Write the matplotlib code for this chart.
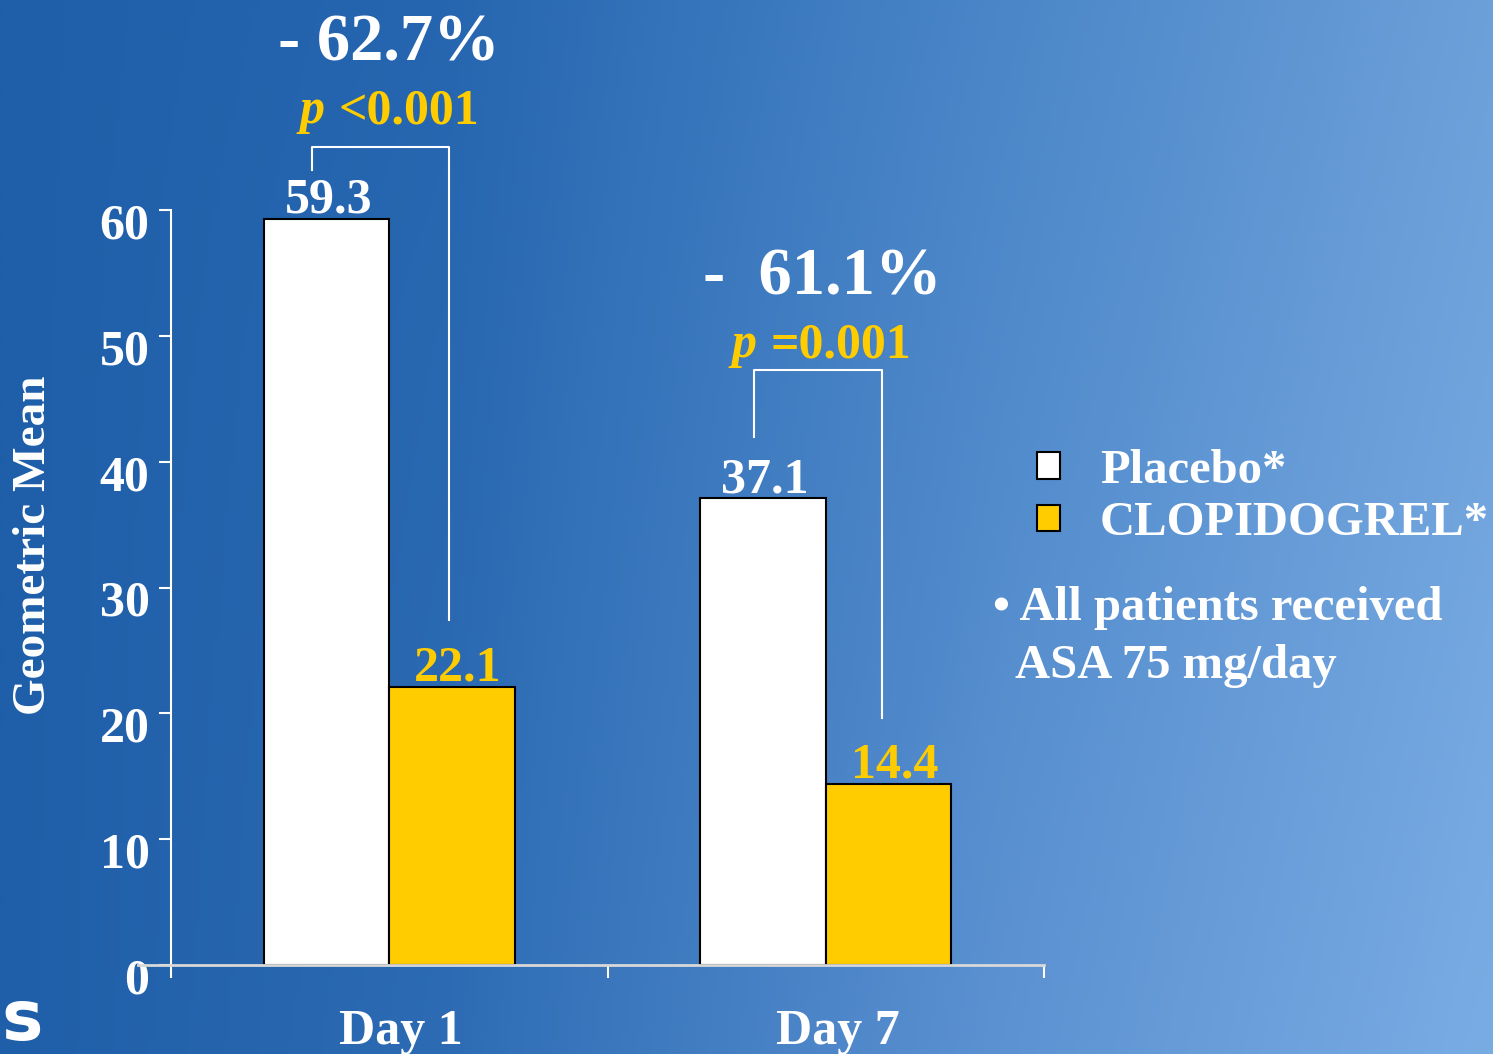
import numpy as np
import matplotlib
matplotlib.use("Agg")
import matplotlib.pyplot as plt
from matplotlib.transforms import ScaledTranslation

# data
categories = ["Day 1", "Day 7"]
placebo = [59.3, 37.1]
clopidogrel = [22.1, 14.4]
reductions = ["- 62.7%", "-  61.1%"]
p_values = ["<0.001", "=0.001"]
series_names = ["Placebo*", "CLOPIDOGREL*"]
yticks = [0, 10, 20, 30, 40, 50, 60]

plt.rcParams["font.family"] = ["Liberation Serif", "DejaVu Serif"]
plt.rcParams["font.weight"] = "bold"

W, H = 1493, 1054
YELLOW = "#FFCC00"
fig = plt.figure(figsize=(W / 100, H / 100), dpi=100)

# background gradient
bg = fig.add_axes([0, 0, 1, 1])
bg.axis("off")
nx, ny = 300, 200
xs = np.linspace(0, 1, nx)
stops = [0, 0.3, 0.67, 1]
top_cols = np.array([[31, 94, 168], [38, 102, 176], [74, 134, 200], [108, 160, 217]]) / 255
bot_cols = np.array([[31, 94, 168], [45, 108, 180], [92, 146, 210], [122, 172, 228]]) / 255
top = np.stack([np.interp(xs, stops, top_cols[:, c]) for c in range(3)], axis=-1)
bot = np.stack([np.interp(xs, stops, bot_cols[:, c]) for c in range(3)], axis=-1)
t = np.linspace(0, 1, ny)[:, None, None]
img = top[None, :, :] * (1 - t) + bot[None, :, :] * t
bg.imshow(img, extent=[0, 1, 0, 1], aspect="auto", origin="upper")
bg.set_xlim(0, 1)
bg.set_ylim(0, 1)

ax = fig.add_axes([171 / W, 89 / H, 873 / W, (965 - 210) / H])
ax.set_facecolor("none")

x = np.arange(len(categories))
w = 0.288
b1 = ax.bar(x - w / 2, placebo, w, color="white", edgecolor="black", linewidth=1.5, label=series_names[0])
b2 = ax.bar(x + w / 2, clopidogrel, w, color=YELLOW, edgecolor="black", linewidth=1.5, label=series_names[1])

ax.set_xlim(-0.5, 1.5)
ax.set_ylim(0, 60)

for s in ["top", "right"]:
    ax.spines[s].set_visible(False)
ax.spines["left"].set_color("white")
ax.spines["left"].set_linewidth(1.5)
ax.spines["bottom"].set_color("#d8d8d8")
ax.spines["bottom"].set_linewidth(2)
ax.spines["bottom"].set_bounds(-0.5 - 33 / 436.5, 1.5)

ax.set_yticks(yticks)
ax.set_yticklabels([str(v) for v in yticks], fontsize=36, color="white")
ax.tick_params(axis="y", length=9, width=1.5, color="white", pad=6.5)
for lab in ax.get_yticklabels():
    lab.set_transform(lab.get_transform() + ScaledTranslation(0, -11 / 100, fig.dpi_scale_trans))

ax.set_xticks([-0.5, 0.5, 1.5])
ax.set_xticklabels([])
ax.tick_params(axis="x", which="major", length=9, width=1.5, color="white")
ax.set_xticks(x, minor=True)
ax.set_xticklabels(categories, minor=True, fontsize=36, color="white")
ax.tick_params(axis="x", which="minor", length=0, pad=32)
for lab in ax.get_xticklabels(minor=True):
    lab.set_transform(lab.get_transform() + ScaledTranslation(12 / 100, 0, fig.dpi_scale_trans))

# value labels
for xi, v in zip(x - w / 2, placebo):
    ax.annotate(f"{v}", (xi, v), xytext=(2, 6), textcoords="offset pixels",
                ha="center", va="baseline", fontsize=36, color="white")
for xi, v in zip(x + w / 2, clopidogrel):
    ax.annotate(f"{v}", (xi, v), xytext=(6, 6), textcoords="offset pixels",
                ha="center", va="baseline", fontsize=36, color=YELLOW)

# significance brackets (left leg, right leg, bar height, label heights)
bracket_top = [65.0, 47.3]
left_foot = [63.2, 42.0]
right_foot = [27.4, 19.6]
left_shift = [-0.034, -0.02]
pct_y = [71.9, 53.3]
p_y = [66.9, 48.3]
for i in range(len(categories)):
    xl = x[i] - w / 2 + left_shift[i]
    xr = x[i] + w / 2 - 0.006 - 0.008 * i
    ax.plot([xl, xl, xr, xr], [left_foot[i], bracket_top[i], bracket_top[i], right_foot[i]],
            color="white", linewidth=1.5, clip_on=False)
    ax.text(x[i] - 0.008 * i, pct_y[i], reductions[i], ha="center", va="baseline",
            fontsize=48, color="white", clip_on=False)
    ax.annotate("p", (x[i], p_y[i]), xytext=(-65 - 4 * i, 0), textcoords="offset pixels",
                ha="right", va="baseline", fontsize=36, color=YELLOW, style="italic", annotation_clip=False)
    ax.annotate(p_values[i], (x[i], p_y[i]), xytext=(-51 - 4 * i, 0), textcoords="offset pixels",
                ha="left", va="baseline", fontsize=36, color=YELLOW, annotation_clip=False)

leg = ax.legend(handles=[b1, b2], loc="upper left", bbox_to_anchor=(1037 / W, 1 - 449 / H),
                bbox_transform=fig.transFigure, frameon=False, fontsize=35,
                handlelength=0.47, handleheight=0.47, handletextpad=0.82,
                labelspacing=0.17, borderpad=0, borderaxespad=0)
for txt in leg.get_texts():
    txt.set_color("white")

fig.text(993 / W, 1 - 620 / H, "\u2022 All patients received", fontsize=35, color="white", va="baseline")
fig.text(1015 / W, 1 - 678 / H, "ASA 75 mg/day", fontsize=35, color="white", va="baseline")

fig.text(34 / W, 1 - 545 / H, "Geometric Mean", rotation=90, ha="center", va="center",
         fontsize=34, color="white")

fig.text(1 / W, 1 - 1040 / H, "s", fontsize=50, color="white", family="DejaVu Sans",
         fontweight="bold", va="baseline")

fig.savefig("out.png", dpi=100)
